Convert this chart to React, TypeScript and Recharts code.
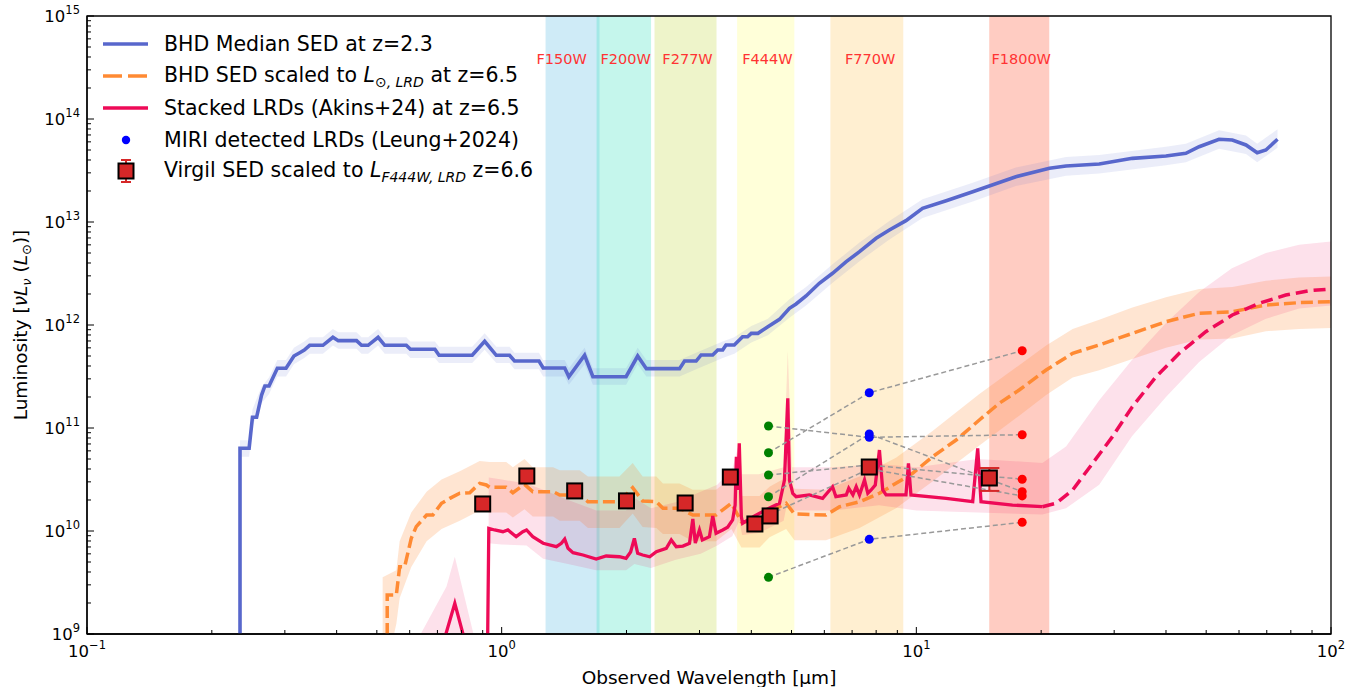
import React from 'react';
import { ComposedChart, Line, Area, Scatter, XAxis, YAxis, ReferenceArea, ReferenceDot, ErrorBar } from 'recharts';

const FONT = '"DejaVu Sans", sans-serif';

// ---------- BHD median SED at z=2.3 (log10 wavelength [um], log10 luminosity [Lsun]) ----------
const bhdMedianLogWave = [-0.631, -0.631, -0.609, -0.601, -0.591, -0.579, -0.571, -0.561, -0.541, -0.520, -0.501, -0.487, -0.476, -0.463, -0.431, -0.407, -0.394, -0.350, -0.338, -0.322, -0.298, -0.282, -0.230, -0.220, -0.161, -0.151, -0.071, -0.041, -0.013, 0.019, 0.031, 0.090, 0.100, 0.152, 0.162, 0.200, 0.220, 0.300, 0.328, 0.349, 0.429, 0.441, 0.469, 0.481, 0.509, 0.521, 0.533, 0.541, 0.561, 0.581, 0.593, 0.602, 0.618, 0.630, 0.642, 0.670, 0.694, 0.710, 0.734, 0.766, 0.798, 0.831, 0.863, 0.903, 0.935, 0.975, 1.015, 1.072, 1.136, 1.240, 1.321, 1.361, 1.441, 1.521, 1.602, 1.650, 1.682, 1.730, 1.762, 1.795, 1.822, 1.843, 1.871];
const bhdMedianLogLum = [8.0, 10.803, 10.803, 11.104, 11.104, 11.320, 11.408, 11.408, 11.580, 11.580, 11.699, 11.731, 11.757, 11.803, 11.803, 11.881, 11.848, 11.848, 11.803, 11.803, 11.881, 11.803, 11.803, 11.764, 11.764, 11.706, 11.706, 11.842, 11.706, 11.706, 11.650, 11.650, 11.583, 11.583, 11.498, 11.706, 11.498, 11.498, 11.699, 11.576, 11.576, 11.650, 11.650, 11.709, 11.709, 11.757, 11.757, 11.806, 11.806, 11.886, 11.886, 11.919, 11.919, 11.951, 11.983, 12.055, 12.162, 12.204, 12.282, 12.405, 12.502, 12.615, 12.712, 12.842, 12.922, 13.013, 13.133, 13.207, 13.294, 13.440, 13.521, 13.544, 13.563, 13.618, 13.641, 13.667, 13.731, 13.803, 13.796, 13.748, 13.673, 13.699, 13.803];
const bhdBandLogWave = [-0.631, -0.609, -0.601, -0.579, -0.561, -0.541, -0.520, -0.501, -0.476, -0.463, -0.431, -0.407, -0.394, -0.350, -0.338, -0.322, -0.298, -0.282, -0.230, -0.220, -0.161, -0.151, -0.071, -0.041, -0.013, 0.019, 0.031, 0.090, 0.100, 0.152, 0.162, 0.200, 0.220, 0.300, 0.328, 0.349, 0.429, 0.469, 0.533, 0.561, 0.602, 0.642, 0.694, 0.734, 0.798, 0.863, 0.935, 1.015, 1.136, 1.240, 1.361, 1.441, 1.602, 1.650, 1.730, 1.795, 1.822, 1.871];
const bhdBandLogLo = [10.72, 10.72, 11.02, 11.24, 11.33, 11.50, 11.50, 11.62, 11.68, 11.72, 11.72, 11.80, 11.77, 11.77, 11.72, 11.72, 11.80, 11.72, 11.72, 11.68, 11.68, 11.63, 11.63, 11.76, 11.63, 11.63, 11.57, 11.57, 11.50, 11.50, 11.42, 11.62, 11.42, 11.42, 11.62, 11.50, 11.50, 11.57, 11.68, 11.72, 11.83, 11.90, 12.07, 12.19, 12.41, 12.62, 12.83, 13.04, 13.20, 13.35, 13.45, 13.47, 13.55, 13.58, 13.71, 13.66, 13.58, 13.72];
const bhdBandLogHi = [10.88, 10.88, 11.18, 11.40, 11.49, 11.66, 11.66, 11.78, 11.84, 11.88, 11.88, 11.96, 11.93, 11.93, 11.88, 11.88, 11.96, 11.88, 11.88, 11.84, 11.84, 11.79, 11.79, 11.92, 11.79, 11.79, 11.73, 11.73, 11.66, 11.66, 11.58, 11.78, 11.58, 11.58, 11.78, 11.66, 11.66, 11.73, 11.84, 11.88, 11.99, 12.06, 12.25, 12.37, 12.59, 12.80, 13.01, 13.22, 13.38, 13.53, 13.63, 13.65, 13.73, 13.76, 13.89, 13.84, 13.76, 13.90];

// ---------- BHD SED scaled to L_sun,LRD at z=6.5 ----------
const bhdScaledLogWave = [-0.276, -0.276, -0.254, -0.246, -0.234, -0.218, -0.206, -0.181, -0.166, -0.145, -0.125, -0.101, -0.077, -0.053, -0.037, -0.029, 0.011, 0.027, 0.055, 0.075, 0.124, 0.140, 0.188, 0.208, 0.284, 0.316, 0.340, 0.373, 0.389, 0.429, 0.461, 0.517, 0.554, 0.578, 0.622, 0.646, 0.686, 0.706, 0.782, 0.815, 0.863, 0.911, 0.951, 0.991, 1.039, 1.096, 1.152, 1.200, 1.248, 1.313, 1.377, 1.441, 1.521, 1.602, 1.682, 1.762, 1.843, 1.923, 2.000];
const bhdScaledLogLum = [8.0, 9.379, 9.379, 9.653, 9.653, 9.929, 10.042, 10.155, 10.155, 10.269, 10.317, 10.366, 10.372, 10.463, 10.447, 10.424, 10.424, 10.372, 10.453, 10.382, 10.382, 10.350, 10.350, 10.284, 10.284, 10.420, 10.291, 10.284, 10.220, 10.220, 10.155, 10.155, 10.269, 10.090, 10.090, 10.187, 10.269, 10.165, 10.155, 10.236, 10.284, 10.366, 10.463, 10.560, 10.721, 10.883, 11.078, 11.240, 11.369, 11.563, 11.725, 11.806, 11.919, 12.032, 12.114, 12.129, 12.194, 12.217, 12.226];
const bhdScaledBandLogWave = [-0.287, -0.254, -0.246, -0.218, -0.181, -0.145, -0.101, -0.053, -0.029, 0.011, 0.027, 0.055, 0.075, 0.124, 0.140, 0.188, 0.208, 0.284, 0.316, 0.340, 0.373, 0.389, 0.429, 0.461, 0.517, 0.554, 0.578, 0.622, 0.646, 0.686, 0.706, 0.782, 0.863, 0.951, 1.039, 1.152, 1.248, 1.313, 1.377, 1.441, 1.521, 1.602, 1.682, 1.762, 1.843, 1.923, 2.000];
const bhdScaledBandLogLo = [8.5, 9.1, 9.35, 9.65, 9.9, 10.02, 10.1, 10.2, 10.18, 10.18, 10.13, 10.21, 10.14, 10.14, 10.1, 10.1, 10.03, 10.03, 10.17, 10.04, 10.03, 9.97, 9.97, 9.9, 9.9, 10.02, 9.84, 9.84, 9.94, 10.02, 9.91, 9.91, 10.03, 10.22, 10.48, 10.83, 11.12, 11.32, 11.49, 11.56, 11.67, 11.78, 11.86, 11.87, 11.94, 11.96, 11.97];
const bhdScaledBandLogHi = [9.55, 9.62, 9.9, 10.18, 10.38, 10.5, 10.58, 10.68, 10.67, 10.67, 10.62, 10.7, 10.62, 10.62, 10.59, 10.59, 10.53, 10.53, 10.66, 10.53, 10.53, 10.46, 10.46, 10.4, 10.4, 10.52, 10.34, 10.34, 10.43, 10.52, 10.41, 10.4, 10.53, 10.71, 10.97, 11.33, 11.61, 11.8, 11.96, 12.05, 12.17, 12.27, 12.35, 12.37, 12.43, 12.46, 12.47];

// ---------- Stacked LRDs (Akins+24) at z=6.5 ----------
const akinsLogWave = [-0.149, -0.113, -0.080, -0.035, -0.031, -0.017, 0.003, 0.015, 0.035, 0.051, 0.060, 0.075, 0.100, 0.132, 0.144, 0.152, 0.160, 0.172, 0.196, 0.228, 0.252, 0.284, 0.300, 0.311, 0.320, 0.328, 0.340, 0.357, 0.373, 0.397, 0.409, 0.421, 0.437, 0.453, 0.461, 0.467, 0.477, 0.484, 0.501, 0.509, 0.517, 0.533, 0.545, 0.557, 0.563, 0.566, 0.569, 0.573, 0.578, 0.581, 0.610, 0.646, 0.670, 0.682, 0.690, 0.694, 0.702, 0.710, 0.742, 0.774, 0.798, 0.806, 0.831, 0.837, 0.847, 0.855, 0.863, 0.875, 0.883, 0.891, 0.901, 0.911, 0.919, 0.927, 0.975, 0.981, 0.987, 1.072, 1.136, 1.148, 1.156, 1.232, 1.304];
const akinsLogLum = [8.8, 9.298, 8.8, 8.5, 10.026, 10.010, 9.993, 10.010, 9.945, 9.993, 10.010, 9.945, 9.881, 9.848, 9.881, 9.922, 9.832, 9.789, 9.767, 9.728, 9.757, 9.750, 9.735, 9.796, 9.929, 9.783, 9.767, 9.750, 9.799, 9.832, 9.913, 9.848, 9.854, 9.881, 10.117, 9.883, 10.010, 9.913, 9.945, 10.146, 9.978, 10.010, 10.036, 10.107, 10.252, 10.721, 10.398, 10.851, 10.139, 10.075, 10.146, 10.223, 10.269, 10.495, 11.288, 10.495, 10.366, 10.333, 10.350, 10.317, 10.430, 10.333, 10.350, 10.415, 10.350, 10.430, 10.350, 10.495, 10.366, 10.398, 10.447, 10.786, 10.398, 10.350, 10.350, 10.657, 10.350, 10.317, 10.284, 10.803, 10.284, 10.252, 10.236];
const akinsExtLogWave = [1.304, 1.337, 1.377, 1.425, 1.473, 1.521, 1.578, 1.634, 1.698, 1.762, 1.827, 1.891, 1.947, 2.000];
const akinsExtLogLum = [10.236, 10.269, 10.398, 10.657, 10.916, 11.207, 11.498, 11.725, 11.935, 12.097, 12.211, 12.291, 12.333, 12.350];
const akinsBandLogWave = [-0.202, -0.133, -0.113, -0.065, -0.033, -0.031, 0.0, 0.06, 0.1, 0.16, 0.228, 0.3, 0.32, 0.36, 0.42, 0.48, 0.52, 0.556, 0.573, 0.58, 0.62, 0.68, 0.690, 0.70, 0.8, 0.91, 1.0, 1.148, 1.304, 1.361, 1.441, 1.520, 1.602, 1.682, 1.761, 1.843, 1.923, 2.0];
const akinsBandLogLo = [8.5, 8.5, 8.5, 8.5, 8.5, 9.88, 9.87, 9.86, 9.73, 9.68, 9.62, 9.62, 9.68, 9.64, 9.72, 9.78, 9.86, 9.95, 10.1, 9.96, 9.98, 10.1, 10.3, 10.2, 10.2, 10.25, 10.2, 10.18, 10.16, 10.22, 10.45, 10.92, 11.30, 11.64, 11.90, 12.06, 12.16, 12.19];
const akinsBandLogHi = [8.95, 9.46, 9.75, 8.95, 8.5, 10.52, 10.50, 10.46, 10.40, 10.30, 10.20, 10.20, 10.32, 10.22, 10.28, 10.38, 10.45, 10.60, 10.86, 10.55, 10.55, 10.62, 11.75, 10.62, 10.62, 10.65, 10.62, 10.70, 10.66, 10.82, 11.27, 11.66, 12.02, 12.32, 12.55, 12.70, 12.78, 12.81];

// ---------- MIRI detected LRDs (Leung+2024): F444W, F770W, F1800W ----------
const miriWave = [4.4, 7.7, 18.0];
const miriLRD1 = [3.55e9, 8.3e9, 1.215e10];
const miriLRD2 = [5.75e10, 2.2e11, 5.63e11];
const miriLRD3 = [1.045e11, 8.12e10, 8.6e10];
const miriLRD4 = [2.15e10, 8.74e10, 2.41e10];
const miriLRD5 = [3.5e10, 4.37e10, 3.18e10];
const miriLRD6 = [1.43e10, 4.0e10, 2.19e10];
const miriObjects = [miriLRD1, miriLRD2, miriLRD3, miriLRD4, miriLRD5, miriLRD6];
const miriColors = ['#008000', '#0000ff', '#ff0000'];

// ---------- Virgil SED scaled to L_F444W,LRD z=6.6 ----------
const virgilWave = [0.90, 1.15, 1.50, 2.00, 2.77, 3.56, 4.08, 4.44, 7.70, 15.0];
const virgilLum = [1.83e10, 3.42e10, 2.45e10, 1.96e10, 1.87e10, 3.34e10, 1.17e10, 1.40e10, 4.18e10, 3.27e10];
const virgilErr = [0, 0, 0, 0, 0, 0, 0, 0, 0, 0.82e10];

// ---------- JWST filters ----------
const filterNames = ['F150W', 'F200W', 'F277W', 'F444W', 'F770W', 'F1800W'];
const filterLo = [1.276, 1.694, 2.337, 3.696, 6.205, 14.99];
const filterHi = [1.722, 2.292, 3.297, 5.08, 9.30, 20.92];
const filterLabelWave = [1.395, 1.99, 2.807, 4.375, 7.74, 17.9];
const filterColors = ['#87ceeb', '#40e0c0', '#c8dc50', '#ffff00', '#ffa500', '#ff6347'];
const filterOpacity = [0.4, 0.3, 0.3, 0.15, 0.18, 0.33];
const filterLabelLum = 3.83e14;

// ---------- axes ----------
const xMajorTicks = [0.1, 1, 10, 100];
const yMajorTicks = [1e9, 1e10, 1e11, 1e12, 1e13, 1e14, 1e15];
const minorMultipliers = [2, 3, 4, 5, 6, 7, 8, 9];
const withMinors = (majors: number[]) =>
  majors.flatMap((m, i) => (i < majors.length - 1 ? [m, ...minorMultipliers.map((k) => m * k)] : [m]));
const xTicks = withMinors(xMajorTicks);
const yTicks = withMinors(yMajorTicks);

const rows = (lw: number[], ll: number[]) => lw.map((w, i) => ({ x: Math.pow(10, w), y: Math.pow(10, ll[i]) }));
const bandRows = (lw: number[], lo: number[], hi: number[]) =>
  lw.map((w, i) => ({ x: Math.pow(10, w), range: [Math.pow(10, lo[i]), Math.pow(10, hi[i])] }));

const bhdMedian = rows(bhdMedianLogWave, bhdMedianLogLum);
const bhdBand = bandRows(bhdBandLogWave, bhdBandLogLo, bhdBandLogHi);
const bhdScaled = rows(bhdScaledLogWave, bhdScaledLogLum);
const bhdScaledBand = bandRows(bhdScaledBandLogWave, bhdScaledBandLogLo, bhdScaledBandLogHi);
const akins = rows(akinsLogWave, akinsLogLum);
const akinsExt = rows(akinsExtLogWave, akinsExtLogLum);
const akinsBand = bandRows(akinsBandLogWave, akinsBandLogLo, akinsBandLogHi);
const virgil = virgilWave.map((w, i) => ({ x: w, y: virgilLum[i], err: virgilErr[i] }));
const virgilMain = virgil.filter((d) => d.err === 0);
const virgilWithErr = virgil.filter((d) => d.err > 0);

const BLUE = '#5867cc';
const ORANGE = '#ff8a33';
const PINK = '#ee0a57';
const SQUARE_RED = '#d62728';

const isMajor = (v: number) => {
  const lg = Math.log10(v);
  return Math.abs(lg - Math.round(lg)) < 1e-9;
};
const expLabel = (v: number) => {
  const e = Math.round(Math.log10(v));
  return e < 0 ? '\u2212' + Math.abs(e) : String(e);
};

const XTick = (props: any) => {
  const { x, y, payload } = props;
  const major = isMajor(payload.value);
  return (
    <g>
      <line x1={x} x2={x} y1={y} y2={y - (major ? 7 : 4)} stroke="#000" strokeWidth={1} />
      {major && (
        <text x={x} y={y + 23} textAnchor="middle" fontFamily={FONT} fontSize={16.5} fill="#000">
          10<tspan dy={-8} fontSize={11.5}>{expLabel(payload.value)}</tspan>
        </text>
      )}
    </g>
  );
};

const YTick = (props: any) => {
  const { x, y, payload } = props;
  const major = isMajor(payload.value);
  return (
    <g>
      <line x1={x} x2={x + (major ? 7 : 4)} y1={y} y2={y} stroke="#000" strokeWidth={1} />
      {major && (
        <text x={x - 7} y={y + 6} textAnchor="end" fontFamily={FONT} fontSize={16.5} fill="#000">
          10<tspan dy={-8} fontSize={11.5}>{expLabel(payload.value)}</tspan>
        </text>
      )}
    </g>
  );
};

const Square = (p: any) => (
  <rect x={p.cx - 7.5} y={p.cy - 7.5} width={15} height={15} fill={SQUARE_RED} stroke="#000" strokeWidth={2} />
);

const subStyle: React.CSSProperties = { fontSize: 14, fontStyle: 'italic', position: 'relative', top: 5 };

const legendRows = [
  { y: 44, text: <span>BHD Median SED at z=2.3</span> },
  { y: 76, text: <span>BHD SED scaled to <i>L</i><span style={subStyle}>⊙, LRD</span> at z=6.5</span> },
  { y: 108, text: <span>Stacked LRDs (Akins+24) at z=6.5</span> },
  { y: 139.5, text: <span>MIRI detected LRDs (Leung+2024)</span> },
  { y: 171, text: <span>Virgil SED scaled to <i>L</i><span style={subStyle}>F444W, LRD</span> z=6.6</span> },
];

const LegendIcon = ({ i }: { i: number }) => {
  if (i === 0) return <line x1={6} x2={51} y1={16} y2={16} stroke={BLUE} strokeWidth={3.5} />;
  if (i === 1) return <line x1={6} x2={51} y1={16} y2={16} stroke={ORANGE} strokeWidth={3.5} strokeDasharray="19 6" />;
  if (i === 2) return <line x1={6} x2={51} y1={16} y2={16} stroke={PINK} strokeWidth={3.5} />;
  if (i === 3) return <circle cx={29} cy={16} r={4.2} fill="#0000ff" />;
  return (
    <g>
      <line x1={29} x2={29} y1={5} y2={27} stroke={SQUARE_RED} strokeWidth={2} />
      <line x1={24} x2={34} y1={5} y2={5} stroke={SQUARE_RED} strokeWidth={2} />
      <line x1={24} x2={34} y1={27} y2={27} stroke={SQUARE_RED} strokeWidth={2} />
      <rect x={21.5} y={8.5} width={15} height={15} fill={SQUARE_RED} stroke="#000" strokeWidth={2} />
    </g>
  );
};

export default function App() {
  return (
    <div style={{ position: 'absolute', left: 0, top: 0, width: 1364, height: 687, background: '#fff', fontFamily: FONT }}>
      <ComposedChart width={1364} height={687} margin={{ top: 16, right: 33, bottom: 0, left: 0 }}>
        <XAxis
          dataKey="x"
          type="number"
          scale="log"
          domain={[0.1, 100]}
          allowDataOverflow
          ticks={xTicks}
          interval={0}
          tickLine={false}
          tickSize={0}
          tickMargin={0}
          tick={(p: any) => <XTick {...p} />}
          axisLine={{ stroke: '#000', strokeWidth: 1.3 }}
          height={53}
        />
        <YAxis
          type="number"
          scale="log"
          domain={[1e9, 1e15]}
          allowDataOverflow
          ticks={yTicks}
          interval={0}
          tickLine={false}
          tickSize={0}
          tickMargin={0}
          tick={(p: any) => <YTick {...p} />}
          axisLine={{ stroke: '#000', strokeWidth: 1.3 }}
          width={87}
        />
        {filterNames.map((n, i) => (
          <ReferenceArea
            key={'f' + n}
            x1={filterLo[i]}
            x2={filterHi[i]}
            y1={1e9}
            y2={1e15}
            fill={filterColors[i]}
            fillOpacity={filterOpacity[i]}
            stroke="none"
          />
        ))}
        <Area data={bhdBand} dataKey="range" type="linear" stroke="none" fill={BLUE} fillOpacity={0.12} isAnimationActive={false} dot={false} activeDot={false} />
        <Area data={bhdScaledBand} dataKey="range" type="linear" stroke="none" fill={ORANGE} fillOpacity={0.22} isAnimationActive={false} dot={false} activeDot={false} />
        <Area data={akinsBand} dataKey="range" type="linear" stroke="none" fill={PINK} fillOpacity={0.12} isAnimationActive={false} dot={false} activeDot={false} />
        <Line data={bhdMedian} dataKey="y" type="linear" stroke={BLUE} strokeWidth={3.6} dot={false} activeDot={false} isAnimationActive={false} />
        <Line data={bhdScaled} dataKey="y" type="linear" stroke={ORANGE} strokeWidth={3.5} strokeDasharray="12 5" dot={false} activeDot={false} isAnimationActive={false} />
        <Line data={akins} dataKey="y" type="linear" stroke={PINK} strokeWidth={3.3} dot={false} activeDot={false} isAnimationActive={false} />
        <Line data={akinsExt} dataKey="y" type="linear" stroke={PINK} strokeWidth={3.5} strokeDasharray="12 6" dot={false} activeDot={false} isAnimationActive={false} />
        {miriObjects.map((o, k) => (
          <Line
            key={'m' + k}
            data={miriWave.map((w, j) => ({ x: w, y: o[j] }))}
            dataKey="y"
            type="linear"
            stroke="#999999"
            strokeWidth={1.5}
            strokeDasharray="5 3"
            dot={false}
            activeDot={false}
            isAnimationActive={false}
          />
        ))}
        {miriColors.map((c, j) => (
          <Scatter
            key={'s' + j}
            data={miriObjects.map((o) => ({ x: miriWave[j], y: o[j] }))}
            dataKey="y"
            isAnimationActive={false}
            shape={(p: any) => <circle cx={p.cx} cy={p.cy} r={4.5} fill={c} />}
          />
        ))}
        <Scatter data={virgilWithErr} dataKey="y" isAnimationActive={false} shape={Square}>
          <ErrorBar dataKey="err" direction="y" width={10} stroke={SQUARE_RED} strokeWidth={2} />
        </Scatter>
        <Scatter data={virgilMain} dataKey="y" isAnimationActive={false} shape={Square} />
        {filterNames.map((n, i) => (
          <ReferenceDot
            key={'l' + n}
            x={filterLabelWave[i]}
            y={filterLabelLum}
            r={0}
            fill="none"
            stroke="none"
            label={{ value: n, position: 'center', fill: '#ff3333', fontSize: 14.5, fontFamily: FONT }}
          />
        ))}
        <ReferenceArea x1={0.1} x2={100} y1={1e9} y2={1e15} fill="none" stroke="#000" strokeWidth={1.3} />
      </ComposedChart>

      {/* legend */}
      {legendRows.map((r, i) => (
        <div key={'lg' + i} style={{ position: 'absolute', left: 97, top: r.y - 16, height: 32, display: 'flex', alignItems: 'center', whiteSpace: 'nowrap' }}>
          <svg width={60} height={32} style={{ display: 'block' }}>
            <LegendIcon i={i} />
          </svg>
          <div style={{ marginLeft: 7, fontSize: 20.5, lineHeight: '32px', color: '#000' }}>{r.text}</div>
        </div>
      ))}

      {/* axis labels */}
      <div style={{ position: 'absolute', left: 709, top: 677, transform: 'translate(-50%, -50%)', fontSize: 18.5, whiteSpace: 'nowrap', color: '#000' }}>
        Observed Wavelength [μm]
      </div>
      <div style={{ position: 'absolute', left: 20, top: 325, transform: 'translate(-50%, -50%) rotate(-90deg)', fontSize: 18.5, whiteSpace: 'nowrap', color: '#000' }}>
        Luminosity [<i>νL</i><span style={{ fontSize: 13, fontStyle: 'italic', position: 'relative', top: 4 }}>ν</span> (<i>L</i><span style={{ fontSize: 13, position: 'relative', top: 4 }}>⊙</span>)]
      </div>
    </div>
  );
}
